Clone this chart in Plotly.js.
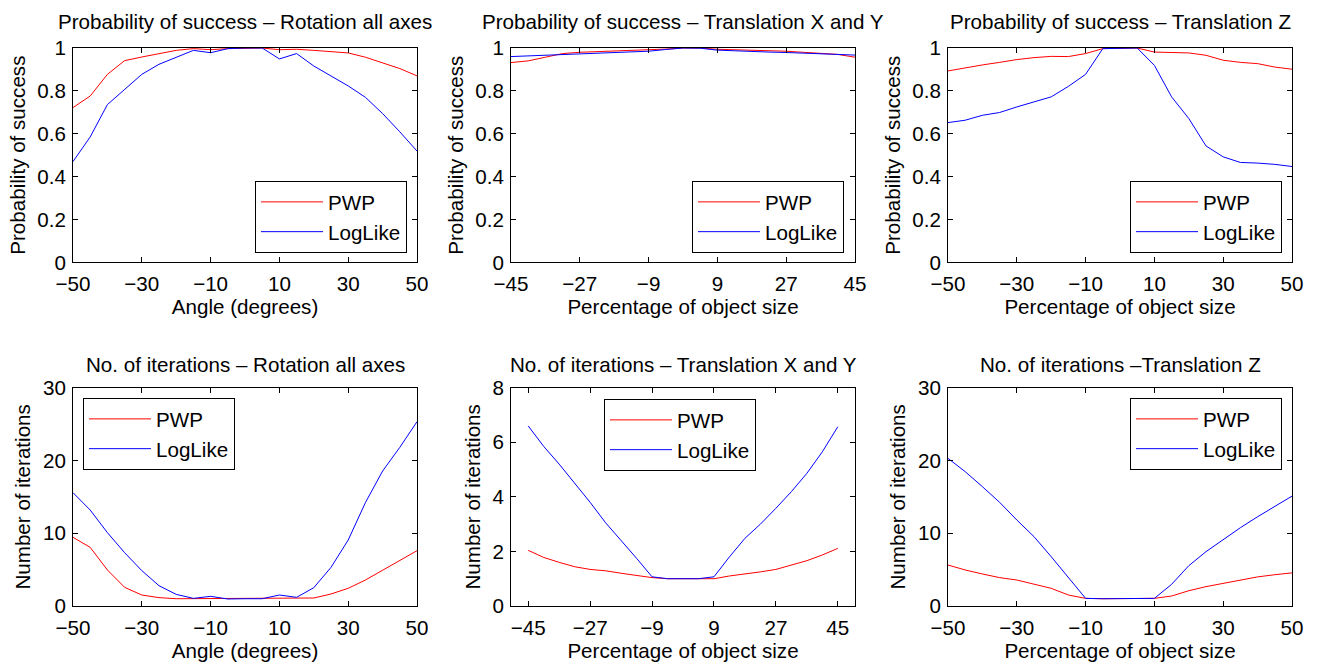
<!DOCTYPE html>
<html>
<head>
<meta charset="utf-8">
<script src="https://cdn.plot.ly/plotly-3.0.1.min.js"></script>
<style>html,body{margin:0;padding:0;background:#fff;}#chart{width:1317px;height:662px;}</style>
</head>
<body>
<div id="chart"></div>
<script>
// ---- data ----
const angle = [-50,-45,-40,-35,-30,-25,-20,-15,-10,-5,0,5,10,15,20,25,30,35,40,45,50];
const pctXY = [-45,-40.5,-36,-31.5,-27,-22.5,-18,-13.5,-9,-4.5,0,4.5,9,13.5,18,22.5,27,31.5,36,40.5,45];
const pctZ = [-50,-45,-40,-35,-30,-25,-20,-15,-10,-5,0,5,10,15,20,25,30,35,40,45,50];

const probRotPWP = [0.722,0.776,0.877,0.941,0.958,0.974,0.989,0.997,0.992,0.997,1.0,1.0,0.992,0.994,0.989,0.983,0.977,0.957,0.932,0.904,0.870];
const probRotLL  = [0.470,0.585,0.736,0.806,0.877,0.924,0.957,0.989,0.978,0.997,1.0,1.0,0.949,0.974,0.916,0.871,0.823,0.770,0.694,0.609,0.519];

const probXYPWP = [0.932,0.940,0.957,0.974,0.980,0.983,0.985,0.986,0.990,0.995,1.0,1.0,0.994,0.992,0.990,0.988,0.985,0.980,0.975,0.970,0.957];
const probXYLL  = [0.960,0.963,0.967,0.970,0.972,0.975,0.977,0.980,0.985,0.993,1.0,0.999,0.990,0.987,0.983,0.981,0.979,0.976,0.972,0.969,0.967];

const probZPWP = [0.893,0.908,0.921,0.933,0.946,0.955,0.961,0.960,0.974,0.997,1.0,1.0,0.981,0.978,0.977,0.966,0.943,0.933,0.927,0.911,0.901];
const probZLL  = [0.652,0.663,0.686,0.699,0.725,0.748,0.772,0.821,0.877,0.997,1.0,1.0,0.919,0.772,0.671,0.543,0.492,0.466,0.463,0.457,0.447];

const iterRotPWP = [9.44,8.06,4.95,2.57,1.51,1.15,1.0,1.0,1.0,1.0,1.0,1.0,1.0,1.05,1.1,1.65,2.43,3.57,4.95,6.23,7.6];
const iterRotLL  = [15.57,13.19,10.08,7.33,4.86,2.79,1.60,1.05,1.33,0.96,1.0,1.0,1.51,1.19,2.52,5.31,9.07,14.2,18.55,21.8,25.33];

const iterXYPWP = [2.04,1.78,1.6,1.44,1.34,1.29,1.2,1.11,1.04,1.0,1.0,1.0,1.0,1.1,1.17,1.25,1.34,1.5,1.66,1.87,2.11];
const iterXYLL  = [6.6,5.85,5.2,4.5,3.8,3.05,2.42,1.75,1.07,1.0,1.0,1.0,1.07,1.8,2.48,3.0,3.58,4.19,4.86,5.65,6.57];

const iterZPWP = [5.63,4.95,4.4,3.9,3.57,2.98,2.43,1.51,1.05,1.0,1.0,1.0,1.05,1.37,2.1,2.66,3.11,3.57,4.0,4.3,4.55];
const iterZLL  = [20.29,18.46,16.4,14.25,11.82,9.53,6.78,3.9,1.05,1.0,1.0,1.0,1.05,2.98,5.54,7.47,9.16,10.76,12.27,13.65,15.1];

const seriesNames = ['PWP','LogLike'];
const panelTitles = [
  'Probability of success – Rotation all axes',
  'Probability of success – Translation X and Y',
  'Probability of success – Translation Z',
  'No. of iterations – Rotation all axes',
  'No. of iterations – Translation X and Y',
  'No. of iterations –Translation Z'
];
const xTitles = ['Angle (degrees)','Percentage of object size','Percentage of object size',
                 'Angle (degrees)','Percentage of object size','Percentage of object size'];
const yTitles = ['Probability of success','Probability of success','Probability of success',
                 'Number of iterations','Number of iterations','Number of iterations'];

// ---- build ----
const RED = '#ff0000', BLUE = '#0000ff';
const FONT = 'Liberation Sans, Arial, Helvetica, sans-serif';
const FS = 20.6;
const panels = [
  {x: angle, a: probRotPWP, b: probRotLL},
  {x: pctXY, a: probXYPWP, b: probXYLL},
  {x: pctZ,  a: probZPWP,  b: probZLL},
  {x: angle, a: iterRotPWP, b: iterRotLL},
  {x: pctXY, a: iterXYPWP, b: iterXYLL},
  {x: pctZ,  a: iterZPWP,  b: iterZLL}
];
const legNames = ['legend','legend2','legend3','legend4','legend5','legend6'];

const traces = [];
panels.forEach((p, i) => {
  const ax = i === 0 ? '' : String(i + 1);
  traces.push({x: p.x, y: p.a, name: seriesNames[0], type: 'scatter', mode: 'lines',
    line: {color: RED, width: 1}, xaxis: 'x' + ax, yaxis: 'y' + ax, legend: legNames[i]});
  traces.push({x: p.x, y: p.b, name: seriesNames[1], type: 'scatter', mode: 'lines',
    line: {color: BLUE, width: 1}, xaxis: 'x' + ax, yaxis: 'y' + ax, legend: legNames[i]});
});

const W = 1317, H = 662;
const M = {l: 73, r: 25, t: 48, b: 56};
const PW = W - M.l - M.r, PH = H - M.t - M.b;
const px2x = v => (v - M.l) / PW;
const px2y = v => (H - M.b - v) / PH;

const colL = [73, 511, 948], colR = [417, 855, 1292];
const rowT = [47.7, 387.7], rowB = [262.3, 606];

const xRanges = [[-50,50],[-45,45],[-50,50],[-50,50],[-50,50],[-50,50]];
const xTick0 = [-50,-45,-50,-50,-45,-50];
const xDt = [20,18,20,20,18,20];
const yRanges = [[0,1],[0,1],[0,1],[0,30],[0,8],[0,30]];
const yDt = [0.2,0.2,0.2,10,2,10];

const layout = {
  width: W, height: H,
  margin: M,
  paper_bgcolor: '#fff', plot_bgcolor: '#fff',
  font: {family: FONT, size: FS, color: '#000'},
  showlegend: true,
  annotations: []
};

const axBase = {
  showline: true, linecolor: '#000', linewidth: 1, mirror: 'ticks',
  ticks: 'inside', ticklen: 5, tickcolor: '#000', tickwidth: 1,
  showgrid: false, zeroline: false, fixedrange: true,
  tickfont: {family: FONT, size: FS, color: '#000'}
};

for (let i = 0; i < 6; i++) {
  const c = i % 3, r = Math.floor(i / 3);
  const ax = i === 0 ? '' : String(i + 1);
  const xd = [px2x(colL[c]), px2x(colR[c])];
  const yd = [px2y(rowB[r]), px2y(rowT[r])];
  layout['xaxis' + ax] = Object.assign({}, axBase, {
    domain: xd, range: xRanges[i], tickmode: 'linear', tick0: xTick0[i], dtick: xDt[i],
    anchor: 'y' + ax, ticklabelstandoff: 3,
    title: {text: xTitles[i], font: {family: FONT, size: FS, color: '#000'}, standoff: 1}
  });
  layout['yaxis' + ax] = Object.assign({}, axBase, {
    domain: yd, range: yRanges[i], tickmode: 'linear', tick0: 0, dtick: yDt[i],
    anchor: 'x' + ax, ticklabelstandoff: 2,
    title: {text: yTitles[i], font: {family: FONT, size: FS, color: '#000'}, standoff: 6}
  });
  layout.annotations.push({
    text: panelTitles[i], xref: 'paper', yref: 'paper',
    x: (xd[0] + xd[1]) / 2, y: px2y(r === 0 ? 21 : 364),
    xanchor: 'center', yanchor: 'middle', showarrow: false,
    font: {family: FONT, size: FS, color: '#000'}
  });
}

const legBase = {
  bgcolor: '#fff', bordercolor: '#000', borderwidth: 1,
  font: {family: FONT, size: FS, color: '#000'}, itemwidth: 62,
  tracegroupgap: 0, itemclick: false, itemdoubleclick: false
};
layout.legend  = Object.assign({}, legBase, {x: px2x(407), y: px2y(253), xanchor: 'right', yanchor: 'bottom'});
layout.legend2 = Object.assign({}, legBase, {x: px2x(844), y: px2y(253), xanchor: 'right', yanchor: 'bottom'});
layout.legend3 = Object.assign({}, legBase, {x: px2x(1282), y: px2y(253), xanchor: 'right', yanchor: 'bottom'});
layout.legend4 = Object.assign({}, legBase, {x: px2x(83), y: px2y(398), xanchor: 'left', yanchor: 'top'});
layout.legend5 = Object.assign({}, legBase, {x: px2x(604), y: px2y(399), xanchor: 'left', yanchor: 'top'});
layout.legend6 = Object.assign({}, legBase, {x: px2x(1282), y: px2y(398), xanchor: 'right', yanchor: 'top'});

Plotly.newPlot('chart', traces, layout, {staticPlot: true, displayModeBar: false});
</script>
</body>
</html>
